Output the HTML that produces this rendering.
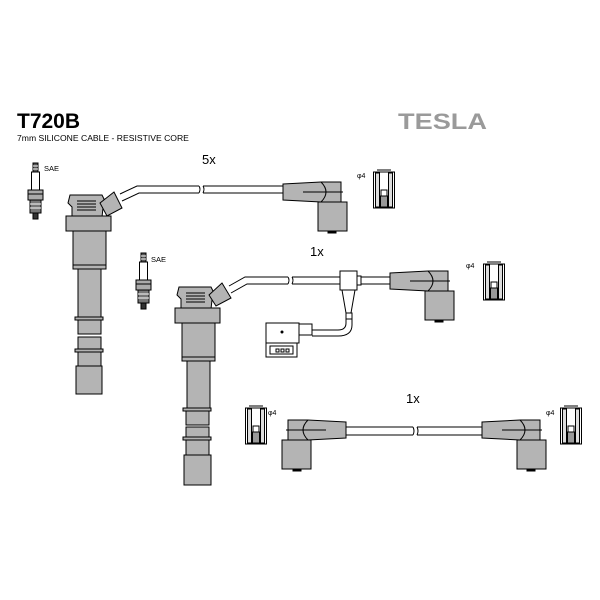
<!DOCTYPE html>
<html><head><style>
html,body{margin:0;padding:0;background:#fff;width:600px;height:600px;overflow:hidden}
svg{display:block}
text{font-family:"Liberation Sans",sans-serif}
</style></head><body>
<svg width="600" height="600" viewBox="0 0 600 600" xmlns="http://www.w3.org/2000/svg">
<defs>
<g id="plug" stroke="#000" stroke-width="1">
  <rect x="6" y="0" width="5" height="9" fill="#555"/>
  <line x1="6" y1="3" x2="11" y2="3" stroke="#fff"/>
  <line x1="6" y1="6" x2="11" y2="6" stroke="#fff"/>
  <rect x="4.5" y="9" width="8" height="18" fill="#fff"/>
  <rect x="1" y="27" width="15" height="10" fill="#aaa"/>
  <line x1="1" y1="31" x2="16" y2="31"/>
  <rect x="3" y="37" width="11" height="13" fill="#777"/>
  <line x1="3" y1="41" x2="14" y2="41" stroke="#fff"/>
  <line x1="3" y1="45" x2="14" y2="45" stroke="#fff"/>
  <rect x="6" y="50" width="5" height="6" fill="#333"/>
</g>
<g id="cap" stroke="#000" stroke-width="1" fill="none">
  <rect x="0.5" y="2" width="21" height="36" fill="#fff"/>
  <rect x="2.5" y="3" width="4" height="34" fill="#ddd"/>
  <rect x="15.5" y="3" width="4" height="34" fill="#ddd"/>
  <line x1="4" y1="0" x2="18" y2="0"/>
  <rect x="8" y="20" width="6" height="6" fill="#fff"/>
  <rect x="7.5" y="26" width="7" height="11" fill="#999"/>
</g>
<g id="boot" stroke="#000" stroke-width="1">
  <path d="M0,0 L38,-2 L58,-2 L58,18 L38,18 L0,16 Z" fill="#b4b4b4"/>
  <path d="M38,-2 Q48,8 38,18" fill="none"/>
  <line x1="20" y1="8" x2="60" y2="8"/>
  <rect x="35" y="18" width="29" height="29" fill="#b4b4b4"/>
  <rect x="45" y="47" width="8" height="2" fill="#000"/>
</g>
<g id="coil" stroke="#000" stroke-width="1" fill="#b4b4b4">
  <path d="M2,2 L34,2 L36,6 L34,24 L4,24 L4,14 L0,10 Z"/>
  <line x1="9" y1="8" x2="28" y2="8"/><line x1="9" y1="11" x2="28" y2="11"/>
  <line x1="9" y1="14" x2="28" y2="14"/><line x1="9" y1="17" x2="28" y2="17"/>
  <rect x="-2" y="23" width="45" height="15"/>
  <rect x="5" y="38" width="33" height="38"/>
  <line x1="5" y1="72" x2="38" y2="72"/>
  <rect x="10" y="76" width="23" height="50"/>
</g>
</defs>

<text x="17" y="128" font-size="21" font-weight="bold">T720B</text>
<text x="17" y="141" font-size="8.6">7mm SILICONE CABLE - RESISTIVE CORE</text>
<text x="398" y="129" font-size="22" font-weight="900" fill="#9a9a9a" textLength="89" lengthAdjust="spacingAndGlyphs">TESLA</text>

<text x="202" y="164" font-size="13">5x</text>
<text x="310" y="256" font-size="13">1x</text>
<text x="406" y="403" font-size="13">1x</text>
<text x="44" y="171" font-size="7.5">SAE</text>
<text x="151" y="262" font-size="7.5">SAE</text>
<text x="357" y="178" font-size="7">φ4</text>
<text x="466" y="268" font-size="7">φ4</text>
<text x="268" y="415" font-size="7">φ4</text>
<text x="546" y="415" font-size="7">φ4</text>

<use href="#plug" x="27" y="163"/>
<use href="#plug" x="135" y="253"/>

<!-- coil 1 -->
<g stroke="#000" stroke-width="1" fill="#b4b4b4">
<use href="#coil" x="68" y="193"/>
<rect x="75" y="317" width="28" height="3"/>
<rect x="78" y="320" width="23" height="14"/>
<rect x="78" y="337" width="23" height="12"/>
<rect x="75" y="349" width="28" height="3"/>
<rect x="78" y="352" width="23" height="14"/>
<rect x="76" y="366" width="26" height="28"/>
<path d="M120,194 L137,186 L283,186 M122,201 L139,193 L283,193" fill="none"/>
<path d="M100,203 L114,192 L122,208 L107,216 Z"/>
<use href="#boot" x="283" y="184"/>
</g>
<g stroke="#000" stroke-width="1" fill="none">
<rect x="199" y="185" width="4" height="9" fill="#fff" stroke="none"/>
<path d="M199,186 q2,3 0,7 M203,186 q2,3 0,7"/>
<rect x="288" y="276" width="4" height="9" fill="#fff" stroke="none"/>
<path d="M288,277 q2,3 0,7 M292,277 q2,3 0,7"/>
<rect x="413" y="426" width="4" height="10" fill="#fff" stroke="none"/>
<path d="M413,427 q2,4 0,8 M417,427 q2,4 0,8"/>
</g>
<use href="#cap" x="373" y="170"/>

<!-- coil 2 -->
<g stroke="#000" stroke-width="1" fill="#b4b4b4">
<use href="#coil" x="177" y="285"/>
<rect x="183" y="408" width="28" height="3"/>
<rect x="186" y="411" width="23" height="14"/>
<rect x="186" y="427" width="23" height="10"/>
<rect x="183" y="437" width="28" height="3"/>
<rect x="186" y="440" width="23" height="15"/>
<rect x="184" y="455" width="27" height="30"/>
<path d="M229,286 L245,277 L288,277 M292,277 L340,277 M231,293 L247,284 L288,284 M292,284 L340,284" fill="none"/>
<path d="M209,295 L222,283 L231,298 L216,306 Z"/>
<path d="M357,277 L390,277 M357,284 L390,284" fill="none"/>
<use href="#boot" x="390" y="273"/>
<rect x="340" y="271" width="17" height="19" fill="#fff"/>
<rect x="357" y="276" width="4" height="9" fill="#fff"/>
<path d="M342,290 L355,290 L351,313 L346,313 Z" fill="#fff"/>
<rect x="346" y="313" width="6" height="6" fill="#fff"/>
<path d="M346,319 L346,323 Q346,330 338,330 L312,330 M352,319 L352,325 Q352,336 338,336 L312,336" fill="none"/>
<rect x="299" y="324" width="13" height="11" fill="#fff"/>
<rect x="266" y="323" width="33" height="20" fill="#fff"/>
<rect x="266" y="343" width="31" height="14" fill="#fff"/>
<rect x="270" y="346" width="23" height="8" fill="#fff"/>
<rect x="276" y="349" width="3" height="3" fill="#fff"/>
<rect x="281" y="349" width="3" height="3" fill="#fff"/>
<rect x="286" y="349" width="3" height="3" fill="#fff"/>
<circle cx="282" cy="332" r="1" fill="#000"/>
</g>
<use href="#cap" x="483" y="262"/>

<!-- bottom lead -->
<g stroke="#000" stroke-width="1" fill="#b4b4b4">
<path d="M346,427 L413,427 M417,427 L482,427 M346,435 L413,435 M417,435 L482,435" fill="none"/>
<g transform="translate(346,422) scale(-1,1)"><use href="#boot" x="0" y="0"/></g>
<use href="#boot" x="482" y="422"/>
</g>
<use href="#cap" x="245" y="406"/>
<use href="#cap" x="560" y="406"/>
</svg>
</body></html>
